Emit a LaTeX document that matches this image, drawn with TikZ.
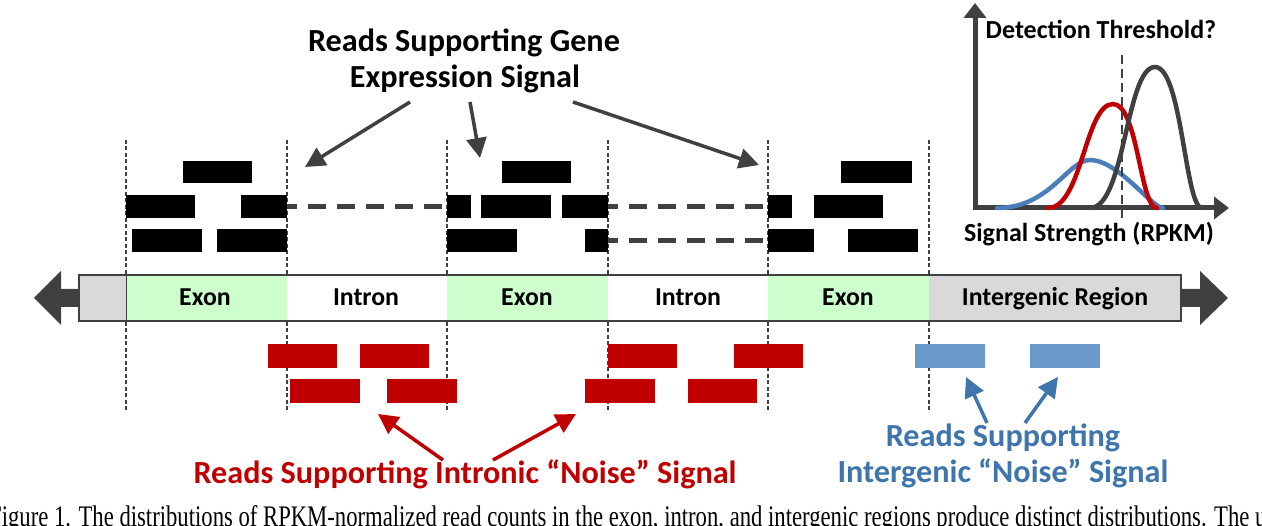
\documentclass[tikz,border=0pt]{standalone}
\usepackage{fontspec}
\setmainfont{Carlito}
\newfontfamily\capserif{Liberation Serif}
\usetikzlibrary{arrows.meta}
\definecolor{dg}{HTML}{404040}
\definecolor{rd}{HTML}{C00000}
\definecolor{blr}{HTML}{6A9ACB}
\definecolor{blt}{HTML}{3F75AD}
\definecolor{blc}{HTML}{4A7EBB}
\definecolor{exg}{HTML}{CCFFCC}
\definecolor{igg}{HTML}{D9D9D9}
\tikzset{
  readk/.style={fill=black},
  readr/.style={fill=rd},
  readb/.style={fill=blr},
  splice/.style={draw=dg,line width=5pt,dash pattern=on 18pt off 11pt,dash phase=8pt},
  bound/.style={draw=dg,line width=1.4pt,dash pattern=on 4pt off 2.5pt},
  callout/.style={line width=3.5pt,-{Triangle[length=20pt,width=20pt]}},
  barlab/.style={font=\bfseries\fontsize{25.8}{30}\selectfont,inner sep=0pt,anchor=base},
  biglab/.style={font=\bfseries\fontsize{32.2}{38}\selectfont,inner sep=0pt,anchor=base},
  graphlab/.style={font=\bfseries\fontsize{26}{31}\selectfont,inner sep=0pt,anchor=base},
  axisline/.style={draw=dg,line width=5pt,-{Triangle[length=15pt,width=22pt]}},
  curve/.style={line width=4.5pt,line cap=round},
  thresh/.style={draw=dg,line width=2.5pt,dash pattern=on 9pt off 5pt},
}
\begin{document}
\begin{tikzpicture}[x=1pt,y=-1pt]
\useasboundingbox (0,0) rectangle (1262,526);
\fill[white] (0,0) rectangle (1262,526);
% region boundaries
\foreach \x/\n in {126/b1,287/b2,447/b3,608/b4,768/b5,929/b6} {
  \coordinate (\n t) at (\x,140);
  \coordinate (\n b) at (\x,413);
  \draw[bound] (\n t) -- (\n b);
}
% genome bar
\fill[igg] (79,275) rectangle (126,321);
\fill[exg] (126,275) rectangle (287,321);
\fill[white] (287,275) rectangle (447,321);
\fill[exg] (447,275) rectangle (608,321);
\fill[white] (608,275) rectangle (768,321);
\fill[exg] (768,275) rectangle (929,321);
\fill[igg] (929,275) rectangle (1181,321);
\draw[dg,line width=1.2pt] (79,275) rectangle (1181,321);
\draw[dg,line width=1pt] (126,275) -- (126,321);
\node[barlab] (ex1) at (205,306) {Exon};
\node[barlab] (in1) at (366,306) {Intron};
\node[barlab] (ex2) at (527,306) {Exon};
\node[barlab] (in2) at (688,306) {Intron};
\node[barlab] (ex3) at (848,306) {Exon};
\node[barlab] (igr) at (1055,306) {Intergenic Region};
% end arrows
\fill[dg] (79,289) -- (61,289) -- (61,271) -- (34,298) -- (61,325) -- (61,307) -- (79,307) -- cycle;
\fill[dg] (1181,289) -- (1200,289) -- (1200,271) -- (1228,298) -- (1200,325) -- (1200,307) -- (1181,307) -- cycle;
% black reads
\fill[readk] (183,161) rectangle (252,183);
\fill[readk] (126,195) rectangle (195,218);
\fill[readk] (241,195) rectangle (287,218);
\fill[readk] (132,229) rectangle (202,252);
\fill[readk] (217,229) rectangle (287,252);
\fill[readk] (502,161) rectangle (571,183);
\fill[readk] (447,195) rectangle (471,218);
\fill[readk] (481,195) rectangle (551,218);
\fill[readk] (562,195) rectangle (608,218);
\fill[readk] (447,229) rectangle (517,252);
\fill[readk] (585,229) rectangle (608,252);
\fill[readk] (841,161) rectangle (912,183);
\fill[readk] (768,195) rectangle (792,218);
\fill[readk] (814,195) rectangle (883,218);
\fill[readk] (768,229) rectangle (814,252);
\fill[readk] (848,229) rectangle (918,252);
% splice connectors
\coordinate (s1a) at (287,206.5); \coordinate (s1b) at (447,206.5);
\coordinate (s2a) at (608,206.5); \coordinate (s2b) at (768,206.5);
\coordinate (s3a) at (608,240.5); \coordinate (s3b) at (768,240.5);
\draw[splice] (s1a) -- (s1b);
\draw[splice] (s2a) -- (s2b);
\draw[splice] (s3a) -- (s3b);
% red reads
\fill[readr] (268,344) rectangle (337,368);
\fill[readr] (360,344) rectangle (429,368);
\fill[readr] (608,344) rectangle (677,368);
\fill[readr] (734,344) rectangle (803,368);
\fill[readr] (290,379) rectangle (360,403);
\fill[readr] (387,379) rectangle (457,403);
\fill[readr] (585,379) rectangle (655,403);
\fill[readr] (688,379) rectangle (757,403);
% blue reads
\fill[readb] (915,344) rectangle (985,368);
\fill[readb] (1030,344) rectangle (1100,368);
% labels
\node[biglab] (gene1) at (464,52) {Reads Supporting Gene};
\node[biglab] (gene2) at (465,88) {Expression Signal};
\node[biglab,text=rd] (intr) at (465,484) {Reads Supporting Intronic “Noise” Signal};
\node[biglab,text=blt] (ig1) at (1003,447) {Reads Supporting};
\node[biglab,text=blt] (ig2) at (1003,483) {Intergenic “Noise” Signal};
% callout arrows
\coordinate (g1s) at (410,102); \coordinate (g1e) at (305,167);
\coordinate (g2s) at (470,102); \coordinate (g2e) at (480,158);
\coordinate (g3s) at (573,102); \coordinate (g3e) at (759,165);
\draw[callout,dg] (g1s) -- (g1e);
\draw[callout,dg] (g2s) -- (g2e);
\draw[callout,dg] (g3s) -- (g3e);
\coordinate (r1s) at (443,460); \coordinate (r1e) at (378,414);
\coordinate (r2s) at (493,460); \coordinate (r2e) at (576,414);
\draw[callout,rd] (r1s) -- (r1e);
\draw[callout,rd] (r2s) -- (r2e);
\coordinate (u1s) at (987,423); \coordinate (u1e) at (966,377);
\coordinate (u2s) at (1025,423); \coordinate (u2e) at (1058,377);
\draw[callout,blt] (u1s) -- (u1e);
\draw[callout,blt] (u2s) -- (u2e);
% distribution plot
\coordinate (orig) at (975,208);
\coordinate (ytip) at (975,3);
\coordinate (xtip) at (1229,208);
\draw[axisline] (975,210.5) -- (ytip);
\draw[axisline] (972.5,208) -- (xtip);
\draw[curve,blc] (997,208) .. controls (1050,208) and (1068,160) .. (1090,160) .. controls (1118,160) and (1152,208) .. (1163,208);
\draw[curve,rd] (1048,208) .. controls (1082,208) and (1085,104) .. (1113,104) .. controls (1138,104) and (1140,208) .. (1157,208);
\draw[curve,dg] (1090,208) .. controls (1125,208) and (1126,67) .. (1155,67) .. controls (1182,67) and (1185,208) .. (1202,208);
\coordinate (thrt) at (1122,55); \coordinate (thrb) at (1122,220);
\draw[thresh] (thrt) -- (thrb);
\node[graphlab] (det) at (1101,39) {Detection Threshold?};
\node[graphlab] (sig) at (1089,242) {Signal Strength (RPKM)};
% caption (cut by the lower edge, as in the reference)
\begin{scope}
\clip (0,0) rectangle (1262,526);
\node[anchor=base west,inner sep=0pt] (cap) at (-11,526) {\resizebox{1277pt}{21pt}{\capserif Figure 1. The distributions of RPKM-normalized read counts in the exon, intron, and intergenic regions produce distinct distributions. The u}};
\end{scope}
\end{tikzpicture}
\end{document}
